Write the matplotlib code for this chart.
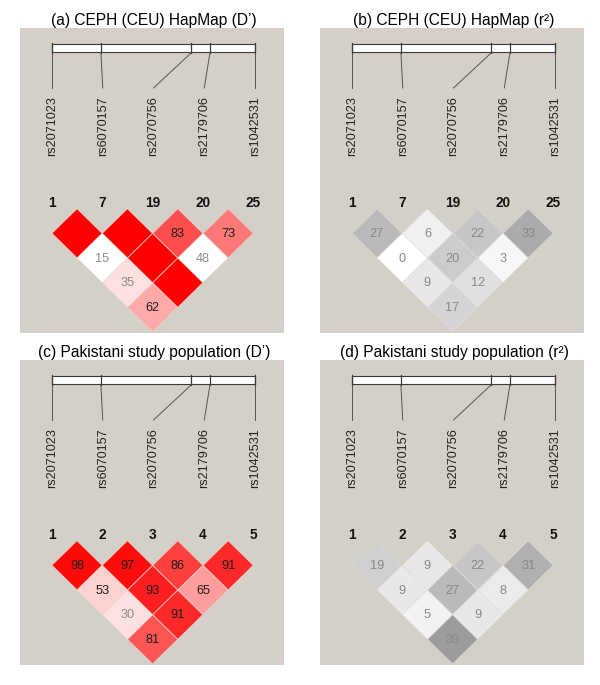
import matplotlib
matplotlib.use("Agg")
import matplotlib.pyplot as plt
from matplotlib.patches import Polygon, Rectangle

plt.rcParams['font.family'] = ['Liberation Sans', 'DejaVu Sans']

# ---------------- data ----------------
snp_names = ["rs2071023", "rs6070157", "rs2070756", "rs2179706", "rs1042531"]
snp_map_pos = [0.0, 0.241, 0.685, 0.778, 1.0]   # relative position on the map bar

hapmap_marker_ids = ["1", "7", "19", "20", "25"]
study_marker_ids = ["1", "2", "3", "4", "5"]

# rows = marker distance 1, 2, 3, 4  (cell (i, i+d))
dprime_hapmap = [[100, 100, 83, 73], [15, 100, 48], [35, 100], [62]]
lod_sig_hapmap = [[True, True, True, True], [False, True, False], [True, True], [True]]
r2_hapmap = [[27, 6, 22, 33], [0, 20, 3], [9, 12], [17]]

dprime_study = [[98, 97, 86, 91], [53, 93, 65], [30, 91], [81]]
lod_sig_study = [[True, True, True, True], [True, True, True], [True, True], [True]]
r2_study = [[19, 9, 22, 31], [9, 27, 8], [5, 9], [39]]

titles = ["(a) CEPH (CEU) HapMap (D\u2019)", "(b) CEPH (CEU) HapMap (r\u00b2)",
          "(c) Pakistani study population (D\u2019)", "(d) Pakistani study population (r\u00b2)"]

# ---------------- styling / layout ----------------
W, H = 600, 685
BG = "#D4D0C8"
PW, PH = 264, 305
panel_origins = [(20, 28), (320, 28), (20, 360), (320, 360)]

bar_x0, bar_x1, bar_y0, bar_y1 = 32, 235, 16, 24
label_x0, label_dx = 32, 50.75
col_x0, col_dx = 31.8, 50.4
row_y0, row_dy = 205.3, 24.7
hx, hy = 24.6, 24.1
HX_FULL, HY_FULL = col_dx / 2, row_dy


def dprime_color(d, sig):
    d = d / 100.0
    if sig:
        if d < 0.5:
            return (1.0, 224 / 255, 224 / 255)
        blgr = (255 - 32) * 2 * (1 - d)
        return (1.0, blgr / 255, blgr / 255)
    if d > 0.99:
        return (192 / 255, 192 / 255, 240 / 255)
    return (1.0, 1.0, 1.0)


def r2_color(r):
    g = (255 - r / 100.0 * 255) / 255
    return (g, g, g)


def diamond(cx, cy, a, b):
    return [(cx, cy - b), (cx + a, cy), (cx, cy + b), (cx - a, cy)]


fig = plt.figure(figsize=(W / 100, H / 100), dpi=100)

panels = [
    (hapmap_marker_ids, dprime_hapmap, lod_sig_hapmap, "D"),
    (hapmap_marker_ids, r2_hapmap, None, "R"),
    (study_marker_ids, dprime_study, lod_sig_study, "D"),
    (study_marker_ids, r2_study, None, "R"),
]

for k, ((ids, vals, sig, kind), (ox, oy)) in enumerate(zip(panels, panel_origins)):
    ax = fig.add_axes([ox / W, 1 - (oy + PH) / H, PW / W, PH / H])
    ax.set_xlim(0, PW)
    ax.set_ylim(PH, 0)
    ax.set_facecolor(BG)
    ax.set_xticks([])
    ax.set_yticks([])
    for s in ax.spines.values():
        s.set_visible(False)

    ax.text(PW / 2 + 2, -8, titles[k], ha="center", va="center", fontsize=11.2, clip_on=False)

    # map bar
    ax.add_patch(Rectangle((bar_x0, bar_y0), bar_x1 - bar_x0, bar_y1 - bar_y0,
                           facecolor="white", edgecolor="#3a3a3a", lw=0.8))
    for i, (name, p) in enumerate(zip(snp_names, snp_map_pos)):
        bx = bar_x0 + p * (bar_x1 - bar_x0)
        lx = label_x0 + label_dx * i
        ax.plot([bx, bx], [bar_y0 - 1, bar_y1 + 1], color="#3a3a3a", lw=0.9)
        ax.plot([bx, lx], [bar_y1 + 1, 60], color="#555555", lw=0.7)
        ax.text(lx, 68, name, rotation=90, ha="center", va="top", fontsize=9.1, color="#222222")

    # marker numbers
    for i, mid in enumerate(ids):
        ax.text(col_x0 + col_dx * i, 175, mid, ha="center", va="center",
                fontsize=9.8, fontweight="bold", color="#111111")

    # light underlay (gap lines between cells)
    for d, row in enumerate(vals):
        for i, v in enumerate(row):
            j = i + d + 1
            cx = col_x0 + col_dx * (i + j) / 2
            cy = row_y0 + row_dy * d
            ax.add_patch(Polygon(diamond(cx, cy, HX_FULL - 0.3, HY_FULL - 0.3), closed=True,
                                 facecolor="#EEE8E6", edgecolor="none"))

    # LD diamonds
    for d, row in enumerate(vals):
        for i, v in enumerate(row):
            j = i + d + 1
            cx = col_x0 + col_dx * (i + j) / 2
            cy = row_y0 + row_dy * d
            if kind == "D":
                fc = dprime_color(v, sig[d][i])
                tc = "#8c8c8c" if v < 50 else "#1e1e1e"
            else:
                fc = r2_color(v)
                tc = "#888888"
            ax.add_patch(Polygon(diamond(cx, cy, hx, hy), closed=True,
                                 facecolor=fc, edgecolor="none"))
            if not (kind == "D" and v >= 100):
                ax.text(cx, cy + 0.5, str(v), ha="center", va="center", fontsize=9.2, color=tc)

fig.savefig("out.png", dpi=100)
